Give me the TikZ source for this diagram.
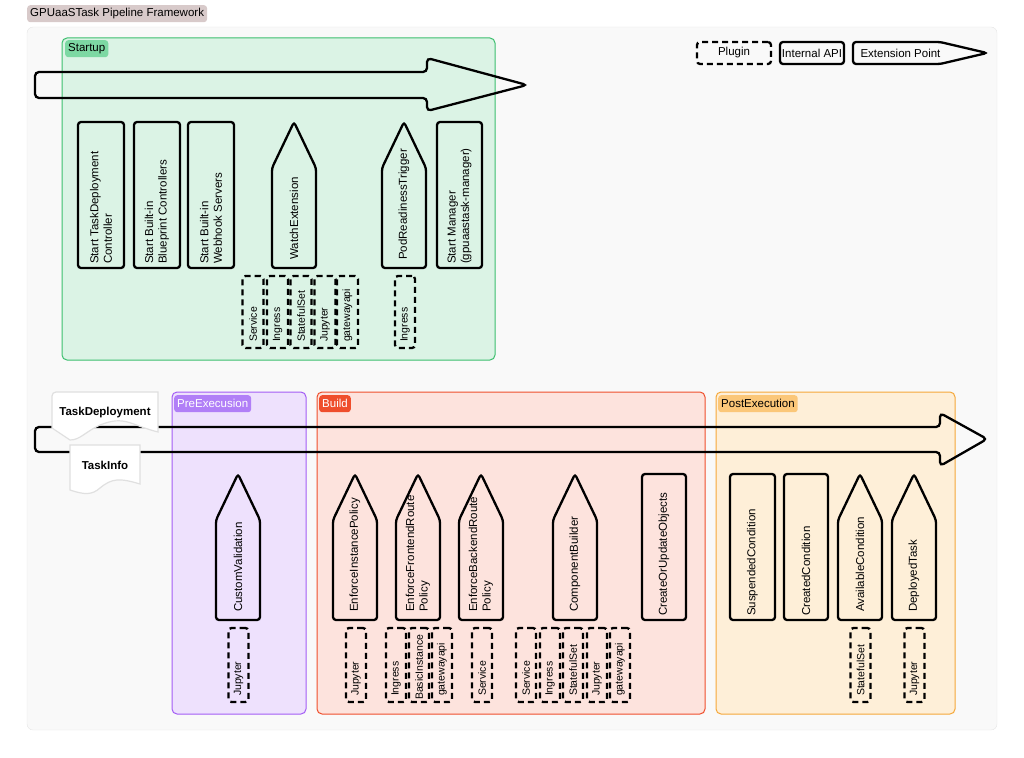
\documentclass[tikz,border=0pt]{standalone}
\usepackage{fontspec}
\setmainfont{Liberation Sans}
\usetikzlibrary{positioning,calc}
\definecolor{panel}{HTML}{F9F9F9}
\definecolor{stfill}{HTML}{DBF3E5}\definecolor{stdraw}{HTML}{3CBF6E}\definecolor{sttag}{HTML}{7DD8A3}
\definecolor{prfill}{HTML}{EEE1FD}\definecolor{prdraw}{HTML}{A35CF5}\definecolor{prtag}{HTML}{B17FF7}
\definecolor{bufill}{HTML}{FDE3DD}\definecolor{budraw}{HTML}{EF4E2C}
\definecolor{pofill}{HTML}{FEEFD8}\definecolor{podraw}{HTML}{F5A83A}\definecolor{potag}{HTML}{FBC779}
\definecolor{titletag}{HTML}{D8CACA}
\newcommand{\extpt}[5]{% name, left x, top, shoulder, bottom
  \draw[api] (#2,#5) -- (#2,#4) -- (#2+22,#3) -- (#2+44,#4) -- (#2+44,#5) -- cycle;
  \coordinate (#1) at (#2+22,#5);}
\begin{document}
\begin{tikzpicture}[x=1pt,y=-1pt,font=\fontsize{11.5}{13.5}\selectfont,
  api/.style={draw,line width=2.3pt,rounded corners=3pt,inner sep=0},
  plug/.style={api,dash pattern=on 6pt off 4pt},
  lbl/.style={rotate=90,anchor=west,align=left,inner sep=0},
  plbl/.style={lbl,font=\fontsize{10.5}{12}\selectfont},
  grp/.style={rounded corners=5pt,line width=1pt},
  tag/.style={rounded corners=3pt,anchor=north west,inner sep=3pt,minimum height=17},
  doc/.style={fill=white,draw=black!12,line width=1.2pt}]
\useasboundingbox (0,0) rectangle (1024,757);
% frame
\node[tag,fill=titletag] (title) at (27,5) {GPUaaSTask Pipeline Framework};
\draw[rounded corners=6pt,fill=panel,draw=black!10] (27,27) rectangle (997,730);
% legend
\node[plug,minimum width=74,minimum height=22] (lgp) at (734,53) {Plugin};
\node[api,minimum width=64,minimum height=22] (lga) at (812,53) {Internal API};
\draw[api] (853,42) -- (940,42) -- (987,53) -- (940,64) -- (853,64) -- cycle;
\node[anchor=west] (lge) at (857,53) {Extension Point};

% Startup
\draw[grp,fill=stfill,draw=stdraw] (62,38) rectangle (495,360);
\node[tag,fill=sttag] (sttg) at (65,40) {Startup};
\draw[api,rounded corners=4pt] (35,72) -- (427,72) -- (427,58) -- (527,85) -- (427,111) -- (427,98) -- (35,98) -- cycle;
\node[api,minimum width=46,minimum height=146] (stc) at (101,195) {};
\node[lbl] at ([yshift=5]stc.south) {Start TaskDeployment\\Controller};
\node[api,minimum width=46,minimum height=146] (stb) at (157,195) {};
\node[lbl] at ([yshift=5]stb.south) {Start Built-in\\Blueprint Controllers};
\node[api,minimum width=46,minimum height=146] (stw) at (211,195) {};
\node[lbl] at ([yshift=5]stw.south) {Start Built-in\\Webhook Servers};
\extpt{wext}{272}{122}{168}{268}
\node[lbl] at ([yshift=8]wext) {WatchExtension};
\extpt{prt}{382}{122}{168}{268}
\node[lbl] at ([yshift=8]prt) {PodReadinessTrigger};
\node[api,minimum width=45,minimum height=146] (stm) at (459.5,195) {};
\node[lbl] at ([yshift=5]stm.south) {Start Manager\\(gpuaastask-manager)};
\node[plug,minimum width=21,minimum height=72] (w1) at (253,312) {};
\node[plbl] at ([yshift=7]w1.south) {Service};
\node[plug,minimum width=21,minimum height=72] (w2) at (277.5,312) {};
\node[plbl] at ([yshift=7]w2.south) {Ingress};
\node[plug,minimum width=21,minimum height=72] (w3) at (301,312) {};
\node[plbl] at ([yshift=7]w3.south) {StatefulSet};
\node[plug,minimum width=21,minimum height=72] (w4) at (325,312) {};
\node[plbl] at ([yshift=7]w4.south) {Jupyter};
\node[plug,minimum width=21,minimum height=72] (w5) at (347.5,312) {};
\node[plbl] at ([yshift=7]w5.south) {gatewayapi};
\node[plug,minimum width=20,minimum height=72] (p1) at (405,312) {};
\node[plbl] at ([yshift=7]p1.south) {Ingress};

% groups of the second row
\draw[grp,fill=prfill,draw=prdraw] (172,392) rectangle (306,714);
\node[tag,fill=prtag,text=white] (prtg) at (174,395) {PreExecusion};
\draw[grp,fill=bufill,draw=budraw] (317,392) rectangle (705,714);
\node[tag,fill=budraw,text=white] (butg) at (319,395) {Build};
\draw[grp,fill=pofill,draw=podraw] (716,392) rectangle (955,714);
\node[tag,fill=potag] (potg) at (718,395) {PostExecution};
\draw[api,rounded corners=4pt] (35,427) -- (940,427) -- (940,413) -- (987,439) -- (940,466) -- (940,452) -- (35,452) -- cycle;
% documents
\draw[doc] (52,397) to[rounded corners=4pt] (52,392) -- (158,392) -- (158,432) .. controls (130,425) and (125,415) .. (100,425) .. controls (85,432) and (80,440) .. (70,440) -- (52,428) -- cycle;
\node (tdep) at (105,413) {\textbf{TaskDeployment}};
\draw[doc] (70,445) -- (140,445) -- (140,484) .. controls (120,478) and (112,478) .. (100,488) .. controls (92,495) and (85,495) .. (70,490) -- cycle;
\node (tinf) at (105,465) {\textbf{TaskInfo}};

% PreExecusion
\extpt{cval}{216}{474}{520}{620}
\node[lbl] at ([yshift=8]cval) {CustomValidation};
\node[plug,minimum width=20,minimum height=74] (c1) at (238.5,665) {};
\node[plbl] at ([yshift=7]c1.south) {Jupyter};
% Build
\extpt{eip}{333}{474}{520}{620}
\node[lbl] at ([yshift=8]eip) {EnforceInstancePolicy};
\extpt{efr}{396}{474}{520}{620}
\node[lbl] at ([yshift=8]efr) {EnforceFrontendRoute\\Policy};
\extpt{ebr}{459}{474}{520}{620}
\node[lbl] at ([yshift=8]ebr) {EnforceBackendRoute\\Policy};
\extpt{cbld}{553}{474}{520}{620}
\node[lbl] at ([yshift=8]cbld) {ComponentBuilder};
\node[api,minimum width=44,minimum height=146] (cuo) at (664,547) {};
\node[lbl] at ([yshift=5]cuo.south) {CreateOrUpdateObjects};
\node[plug,minimum width=20,minimum height=74] (e1) at (356,665) {};
\node[plbl] at ([yshift=7]e1.south) {Jupyter};
\node[plug,minimum width=20,minimum height=74] (f1) at (396,665) {};
\node[plbl] at ([yshift=7]f1.south) {Ingress};
\node[plug,minimum width=20,minimum height=74] (f2) at (419,665) {};
\node[plbl] at ([yshift=3]f2.south) {BasicInstance};
\node[plug,minimum width=20,minimum height=74] (f3) at (442,665) {};
\node[plbl] at ([yshift=7]f3.south) {gatewayapi};
\node[plug,minimum width=20,minimum height=74] (b1) at (482,665) {};
\node[plbl] at ([yshift=7]b1.south) {Service};
\node[plug,minimum width=20,minimum height=74] (k1) at (526,665) {};
\node[plbl] at ([yshift=7]k1.south) {Service};
\node[plug,minimum width=20,minimum height=74] (k2) at (550,665) {};
\node[plbl] at ([yshift=7]k2.south) {Ingress};
\node[plug,minimum width=20,minimum height=74] (k3) at (573,665) {};
\node[plbl] at ([yshift=7]k3.south) {StatefulSet};
\node[plug,minimum width=20,minimum height=74] (k4) at (597,665) {};
\node[plbl] at ([yshift=7]k4.south) {Jupyter};
\node[plug,minimum width=20,minimum height=74] (k5) at (620,665) {};
\node[plbl] at ([yshift=7]k5.south) {gatewayapi};
% PostExecution
\node[api,minimum width=45,minimum height=146] (sus) at (752.5,547) {};
\node[lbl] at ([yshift=5]sus.south) {SuspendedCondition};
\node[api,minimum width=44,minimum height=146] (cre) at (806,547) {};
\node[lbl] at ([yshift=5]cre.south) {CreatedCondition};
\extpt{avl}{838}{474}{520}{620}
\node[lbl] at ([yshift=8]avl) {AvailableCondition};
\extpt{dpl}{892}{474}{520}{620}
\node[lbl] at ([yshift=8]dpl) {DeployedTask};
\node[plug,minimum width=20,minimum height=74] (a1) at (860.5,665) {};
\node[plbl] at ([yshift=7]a1.south) {StatefulSet};
\node[plug,minimum width=20,minimum height=74] (d1) at (914.5,665) {};
\node[plbl] at ([yshift=7]d1.south) {Jupyter};
\end{tikzpicture}
\end{document}
